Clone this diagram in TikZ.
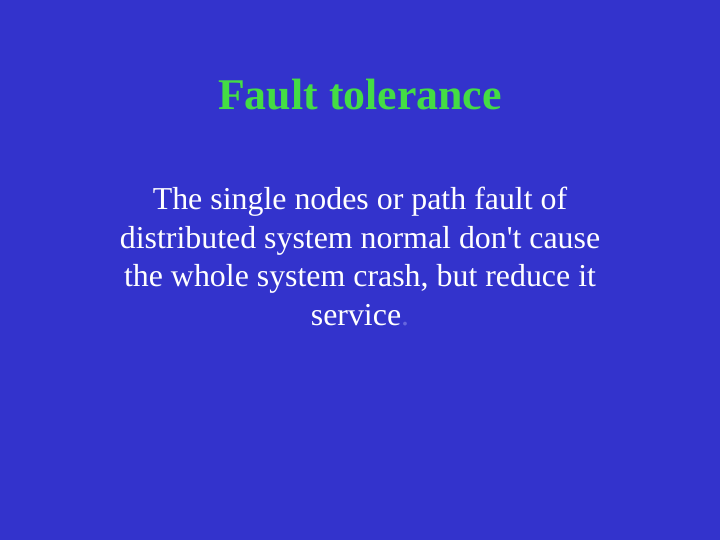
\documentclass[tikz,border=0pt]{standalone}
\usepackage{fontspec}
\setmainfont{Liberation Serif}
\definecolor{bg}{HTML}{3333CC}
\definecolor{ttl}{HTML}{44DD44}
\definecolor{dot}{HTML}{6666DD}
\begin{document}
\begin{tikzpicture}[x=1bp,y=-1bp]
\fill[bg] (0,0) rectangle (720,540);
\useasboundingbox (0,0) rectangle (720,540);
\node[text=ttl,font=\fontsize{44}{52}\selectfont\bfseries] (title) at (360,95) {Fault tolerance};
\node[text=white,font=\fontsize{32}{38.5}\selectfont,align=center,anchor=north] (body) at (360,184)
{The single nodes or path fault of\\distributed system normal don\textquotesingle t cause\\the whole system crash, but reduce it\\service\textcolor{dot}{.}};
\end{tikzpicture}
\end{document}
